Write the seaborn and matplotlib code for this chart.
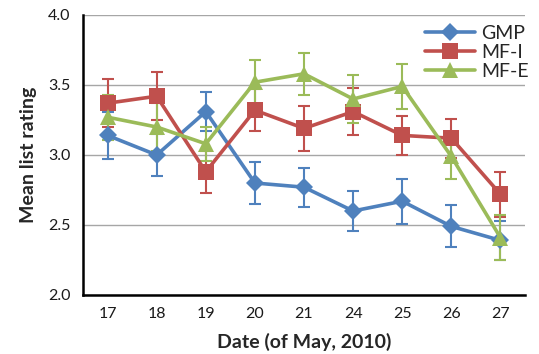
import numpy as np
import pandas as pd
import matplotlib
matplotlib.use("Agg")
import matplotlib.pyplot as plt
import seaborn as sns

dates = ["17", "18", "19", "20", "21", "24", "25", "26", "27"]
series = ["GMP", "MF-I", "MF-E"]

gmp = [3.14, 3.00, 3.31, 2.80, 2.77, 2.60, 2.67, 2.49, 2.39]
gmp_err = [0.17, 0.15, 0.14, 0.15, 0.14, 0.14, 0.16, 0.15, 0.14]
mfi = [3.37, 3.42, 2.88, 3.32, 3.19, 3.31, 3.14, 3.12, 2.72]
mfi_err = [0.17, 0.17, 0.15, 0.15, 0.16, 0.17, 0.14, 0.14, 0.16]
mfe = [3.27, 3.20, 3.08, 3.52, 3.58, 3.40, 3.49, 2.99, 2.41]
mfe_err = [0.16, 0.17, 0.12, 0.16, 0.15, 0.17, 0.16, 0.16, 0.16]

colors = {"GMP": "#4F81BD", "MF-I": "#C0504D", "MF-E": "#9BBB59"}
markers = {"GMP": "D", "MF-I": "s", "MF-E": "^"}
msizes = {"GMP": 9.5, "MF-I": 11, "MF-E": 12}

values = {"GMP": gmp, "MF-I": mfi, "MF-E": mfe}
errors = {"GMP": gmp_err, "MF-I": mfi_err, "MF-E": mfe_err}

rows = []
for s in series:
    for i, d in enumerate(dates):
        rows.append({"pos": i, "Date": d, "Series": s, "Rating": values[s][i], "Err": errors[s][i]})
df = pd.DataFrame(rows)

sns.set_theme(style="white")
plt.rcParams["font.family"] = ["Lato", "DejaVu Sans"]

fig = plt.figure(figsize=(5.39, 3.54), dpi=100)
ax = fig.add_axes([83 / 539, 1 - 295 / 354, 442 / 539, 280 / 354])

for s in series:
    sub = df[df["Series"] == s]
    ax.errorbar(sub["pos"], sub["Rating"], yerr=sub["Err"], fmt="none",
                ecolor=colors[s], elinewidth=1.5, capsize=4, capthick=1.5, zorder=2)

for s in series:
    sub = df[df["Series"] == s]
    sns.lineplot(data=sub, x="pos", y="Rating", color=colors[s], marker=markers[s],
                 markersize=msizes[s], markeredgewidth=0, linewidth=2.6,
                 label=s, ax=ax, zorder=3)

ax.set_xlim(-0.5, 8.5)
ax.set_ylim(2.0, 4.0)
ax.set_yticks([2.0, 2.5, 3.0, 3.5, 4.0])
ax.set_yticklabels(["2.0", "2.5", "3.0", "3.5", "4.0"], fontsize=11.5)
ax.set_xticks(range(len(dates)))
ax.set_xticklabels(dates, fontsize=11.5)
ax.yaxis.grid(True, color="#A6A6A6", linewidth=1)
ax.set_axisbelow(True)

for side in ["top", "right"]:
    ax.spines[side].set_visible(False)
ax.spines["left"].set_color("black")
ax.spines["left"].set_linewidth(1.8)
ax.spines["bottom"].set_color("black")
ax.spines["bottom"].set_linewidth(1.8)
ax.tick_params(axis="both", direction="out", length=4, width=1, color="black",
               labelcolor="#1a1a1a", pad=5)

ax.set_xlabel("Date (of May, 2010)", fontsize=14, fontweight="bold", labelpad=8)
ax.set_ylabel("Mean list rating", fontsize=14, fontweight="bold", labelpad=8)

leg = ax.legend(loc="upper right", bbox_to_anchor=(1.03, 1.0), frameon=False, fontsize=14,
                handlelength=2.6, handletextpad=0.3, labelspacing=0.1, borderaxespad=0.1)

fig.savefig("out.png", dpi=100)
